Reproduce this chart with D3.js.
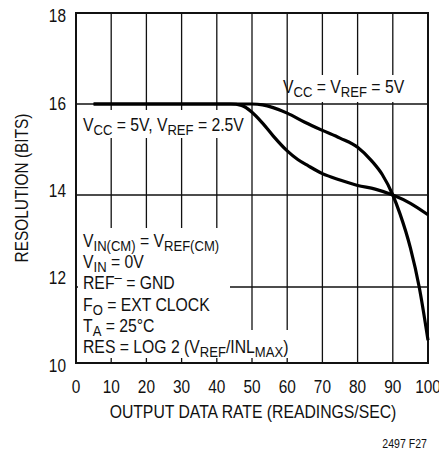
<!DOCTYPE html>
<html>
<head>
<meta charset="utf-8">
<script src="https://cdn.jsdelivr.net/npm/d3@7"></script>
<style>
  body { margin: 0; background: #fff; }
  text { font-family: "Liberation Sans", Arial, sans-serif; fill: #111; }
</style>
</head>
<body>
<div id="chart"></div>
<script>
// data
var xTicks = [0, 10, 20, 30, 40, 50, 60, 70, 80, 90, 100];
var yTicks = [10, 12, 14, 16, 18];
var gridX = [10, 20, 30, 40, 50, 60, 70, 80, 90];
var gridY = [12, 14, 16];

// VCC = VREF = 5V
var rate5 = [5, 45, 50, 53, 56, 60, 65, 70, 75, 80, 84, 87, 90, 92, 95, 97.5, 100];
var res5 = [16, 16, 16, 15.98, 15.92, 15.8, 15.6, 15.42, 15.25, 15.05, 14.75, 14.45, 14.0, 13.6, 12.85, 12.0, 10.6];

// VCC = 5V, VREF = 2.5V
var rate25 = [5, 44, 47, 50, 53, 56, 60, 63, 66, 70, 75, 80, 85, 90, 95, 100];
var res25 = [16, 16, 15.97, 15.82, 15.58, 15.3, 14.97, 14.78, 14.64, 14.47, 14.33, 14.21, 14.13, 14.0, 13.82, 13.57];

var xTitle = "OUTPUT DATA RATE (READINGS/SEC)";
var yTitle = "RESOLUTION (BITS)";
var figId = "2497 F27";

// label segments: [text, kind] kind: n normal, s subscript, p superscript
var label5 = [["V", "n"], ["CC", "s"], [" = V", "n"], ["REF", "s"], [" = 5V", "n"]];
var label25 = [["V", "n"], ["CC", "s"], [" = 5V, V", "n"], ["REF", "s"], [" = 2.5V", "n"]];
var notes = [
  [["V", "n"], ["IN(CM)", "s"], [" = V", "n"], ["REF(CM)", "s"]],
  [["V", "n"], ["IN", "s"], [" = 0V", "n"]],
  [["REF", "n"], ["\u2013", "p"], [" = GND", "n"]],
  [["F", "n"], ["O", "s"], [" = EXT CLOCK", "n"]],
  [["T", "n"], ["A", "s"], [" = 25\u00B0C", "n"]],
  [["RES = LOG 2 (V", "n"], ["REF", "s"], ["/INL", "n"], ["MAX", "s"], [")", "n"]]
];

var width = 439, height = 450;
var fs = 17.5, fsSub = 14.5;

var x = d3.scaleLinear().domain([0, 100]).range([76, 428]);
// the printed grid is not evenly spaced below 12 bits
var y = d3.scaleLinear().domain([10, 12, 14, 16, 18]).range([363, 287, 195, 104, 13]);
var yLab = d3.scaleLinear().domain([10, 18]).range([365.5, 16]);

var svg = d3.select("#chart").append("svg")
  .attr("width", width)
  .attr("height", height);

// condensed look: the print uses a narrow face, squash the glyphs
function narrow(sel, k) {
  k = k || 0.88;
  sel.each(function() {
    var spans = this.querySelectorAll("tspan");
    var nodes = spans.length ? Array.prototype.slice.call(spans) : [this];
    nodes.forEach(function(n) {
      var len = n.getComputedTextLength();
      n.setAttribute("textLength", len * k);
      n.setAttribute("lengthAdjust", "spacingAndGlyphs");
    });
  });
}

// grid
svg.append("g").selectAll("line").data(gridX).enter().append("line")
  .attr("x1", function(d) { return x(d); })
  .attr("x2", function(d) { return x(d); })
  .attr("y1", y(18)).attr("y2", y(10))
  .attr("stroke", "#111").attr("stroke-width", 1.3);

svg.append("g").selectAll("line").data(gridY).enter().append("line")
  .attr("x1", x(0)).attr("x2", x(100))
  .attr("y1", function(d) { return y(d); })
  .attr("y2", function(d) { return y(d); })
  .attr("stroke", "#111").attr("stroke-width", 1.3);

// white boxes behind the printed notes
var boxes = [
  [78, 228, 230, 358],
  [78, 330, 298, 358],
  [78, 110, 247, 138],
  [298, 75, 412, 102]
];
svg.append("g").selectAll("rect").data(boxes).enter().append("rect")
  .attr("x", function(d) { return d[0]; })
  .attr("y", function(d) { return d[1]; })
  .attr("width", function(d) { return d[2] - d[0]; })
  .attr("height", function(d) { return d[3] - d[1]; })
  .attr("fill", "#fff");

// frame
svg.append("rect")
  .attr("x", x(0)).attr("y", y(18))
  .attr("width", x(100) - x(0)).attr("height", y(10) - y(18))
  .attr("fill", "none").attr("stroke", "#111").attr("stroke-width", 2);

// curves
var line = d3.line()
  .curve(d3.curveMonotoneX)
  .x(function(d) { return x(d[0]); })
  .y(function(d) { return y(d[1]); });

[[rate25, res25], [rate5, res5]].forEach(function(s) {
  svg.append("path")
    .datum(d3.zip(s[0], s[1]))
    .attr("d", line)
    .attr("fill", "none")
    .attr("stroke", "#000")
    .attr("stroke-width", 3.2);
});

// tick labels
svg.append("g").selectAll("text").data(xTicks).enter().append("text")
  .attr("x", function(d) { return x(d); })
  .attr("y", 393)
  .attr("text-anchor", "middle")
  .style("font-size", fs + "px")
  .text(function(d) { return d; })
  .call(narrow);

svg.append("g").selectAll("text").data(yTicks).enter().append("text")
  .attr("x", 66)
  .attr("y", function(d) { return yLab(d); })
  .attr("dy", "0.36em")
  .attr("text-anchor", "end")
  .style("font-size", fs + "px")
  .text(function(d) { return d; })
  .call(narrow);

// axis titles
svg.append("text")
  .attr("x", (x(0) + x(100)) / 2 + 1)
  .attr("y", 418)
  .attr("text-anchor", "middle")
  .style("font-size", fs + "px")
  .text(xTitle)
  .call(narrow, 0.9);

svg.append("text")
  .attr("transform", "translate(28," + ((y(10) + y(18)) / 2) + ") rotate(-90)")
  .attr("text-anchor", "middle")
  .style("font-size", fs + "px")
  .text(yTitle)
  .call(narrow);

svg.append("text")
  .attr("x", 427).attr("y", 448)
  .attr("text-anchor", "end")
  .style("font-size", "12px")
  .text(figId)
  .call(narrow);

// rich labels with sub/superscripts
function richText(parts, px, py) {
  var t = svg.append("text").attr("x", px).attr("y", py).style("font-size", fs + "px");
  var shift = 0;
  parts.forEach(function(p) {
    var target = p[1] === "s" ? 4 : (p[1] === "p" ? -7 : 0);
    t.append("tspan")
      .attr("dy", target - shift)
      .style("font-size", (p[1] === "n" ? fs : fsSub) + "px")
      .text(p[0]);
    shift = target;
  });
  t.call(narrow, 0.9);
  return t;
}

richText(label5, 283, 93);
richText(label25, 83, 131);
notes.forEach(function(n, i) {
  richText(n, 83, 247 + i * 21.2);
});
</script>
</body>
</html>
